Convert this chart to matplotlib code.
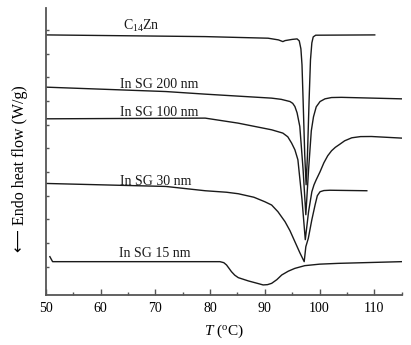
import matplotlib
matplotlib.use("Agg")
import matplotlib.pyplot as plt
import numpy as np

# --------------------------------------------------
# DSC traces (temperature in C, heat flow in offset a.u.)
# --------------------------------------------------

t_c14zn = [50.0, 79.1, 90.6, 92.5, 93.3, 93.7, 95.0, 95.9, 96.3, 96.6, 96.8, 97.0,
           97.3, 97.55, 97.8, 98.1, 98.35, 98.6, 98.85, 99.3, 110.1]
hf_c14zn = [26.0, 25.83, 25.67, 25.5, 25.33, 25.43, 25.55, 25.6, 25.4, 24.6, 23.0,
            19.5, 14.0, 11.0, 14.0, 19.5, 23.5, 25.2, 25.8, 25.97, 26.0]

t_200 = [50.0, 71.9, 79.1, 91.25, 93.0, 94.6, 95.1, 95.5, 95.9, 96.4, 97.0, 97.5,
         98.0, 98.5, 98.9, 99.4, 100.1, 101.0, 102.2, 104.0, 115.0]
hf_200 = [20.77, 20.33, 20.07, 19.67, 19.55, 19.33, 19.15, 18.83, 18.2, 16.83,
          12.5, 8.0, 12.5, 16.4, 17.8, 18.8, 19.33, 19.6, 19.73, 19.75, 19.6]

t_100 = [50.0, 79.1, 85.1, 91.25, 93.3, 94.2, 94.9, 95.5, 96.05, 96.8, 97.4,
         98.0, 98.6, 99.0, 99.4, 100.1, 100.8, 101.5, 102.2, 102.9, 103.7, 104.6,
         105.9, 107.5, 109.5, 115.0]
hf_100 = [17.6, 17.67, 17.17, 16.5, 16.17, 15.8, 15.17, 14.5, 13.5, 9.5, 5.5,
          8.3, 10.3, 11.0, 11.5, 12.3, 13.2, 13.9, 14.4, 14.75, 15.05, 15.4,
          15.7, 15.82, 15.83, 15.67]

t_30 = [50.0, 71.9, 79.1, 83.0, 85.15, 88.0, 90.0, 91.25, 92.4, 93.7, 94.6, 95.5,
        96.4, 97.2, 97.5, 97.95, 98.6, 99.2, 99.6, 100.1, 100.8, 101.9, 108.65]
hf_30 = [11.13, 10.83, 10.4, 10.25, 10.1, 9.75, 9.3, 8.97, 8.3, 7.3, 6.4, 5.3,
         4.2, 3.3, 4.8, 5.63, 7.5, 9.0, 9.9, 10.3, 10.42, 10.45, 10.4]

t_15 = [50.7, 51.2, 79.1, 81.8, 82.5, 83.0, 83.5, 83.9, 84.5, 85.15, 87.0, 88.5,
        89.7, 90.5, 91.25, 92.2, 93.1, 94.3, 95.5, 97.3, 100.0, 103.4, 115.0]
hf_15 = [3.8, 3.3, 3.3, 3.3, 3.2, 2.97, 2.6, 2.3, 1.95, 1.7, 1.37, 1.15,
         0.97, 1.0, 1.13, 1.5, 1.97, 2.35, 2.63, 2.9, 3.05, 3.13, 3.3]

series = [
    (t_c14zn, hf_c14zn, "C$_{14}$Zn", 64.1, 26.9),
    (t_200, hf_200, "In SG 200 nm", 63.5, 21.0),
    (t_100, hf_100, "In SG 100 nm", 63.5, 18.25),
    (t_30, hf_30, "In SG 30 nm", 63.5, 11.3),
    (t_15, hf_15, "In SG 15 nm", 63.3, 4.1),
]

plt.rcParams["font.family"] = ["Liberation Serif", "DejaVu Sans"]
plt.rcParams["mathtext.fontset"] = "custom"
plt.rcParams["mathtext.rm"] = "Liberation Serif"
plt.rcParams["mathtext.it"] = "Liberation Serif:italic"

fig = plt.figure(figsize=(4.11, 3.45), dpi=100)
ax = fig.add_axes([0.112, 0.146, 0.865, 0.831])

for t, hf, label, lx, ly in series:
    ax.plot(t, hf, color="#1a1a1a", lw=1.0, solid_joinstyle="round")
    ax.text(lx, ly, label, fontsize=10, va="center", ha="left", color="#1a1a1a")

ax.set_xlim(50, 115)
ax.set_ylim(0, 28.7)

for side in ["top", "right"]:
    ax.spines[side].set_visible(False)
for side in ["left", "bottom"]:
    ax.spines[side].set_color("#555555")
    ax.spines[side].set_linewidth(1.3)

ax.set_xticks(np.arange(50, 111, 10))
ax.set_xticks(np.arange(55, 116, 5), minor=True)
ax.set_yticks(np.arange(2.8, 28, 2.37))
ax.set_yticklabels([])
ax.tick_params(axis="x", which="major", direction="in", length=4, width=1,
               color="#555555", labelsize=10, pad=5)
ax.tick_params(axis="x", which="minor", direction="in", length=2.5, width=1,
               color="#555555")
ax.tick_params(axis="y", which="major", direction="in", length=2.5, width=1,
               color="#555555")

ax.set_xlabel("$T$ ($^{\\rm o}$C)", fontsize=11, labelpad=6)
ax.set_ylabel("\u27f5 Endo heat flow (W/g)", fontsize=11.5)
ax.yaxis.set_label_coords(-0.052, 0.44)

fig.savefig("out.png", dpi=100)
